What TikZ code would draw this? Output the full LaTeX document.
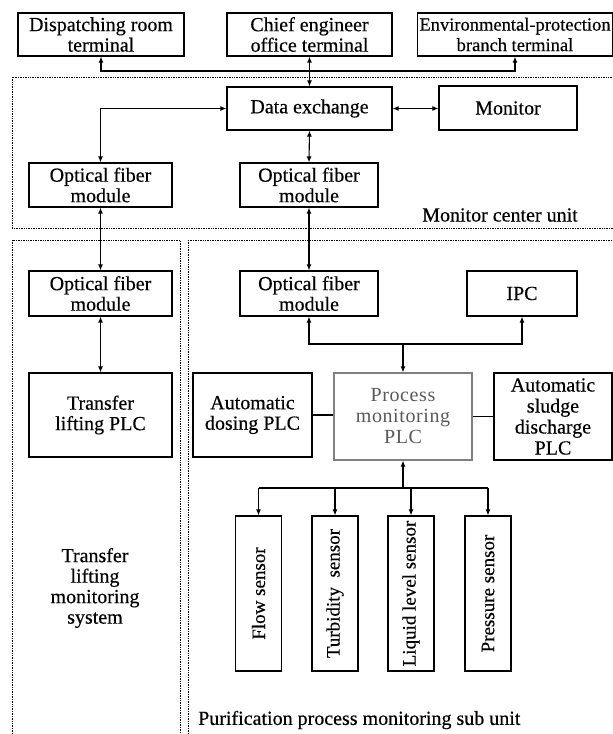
\documentclass[tikz,border=0pt]{standalone}
\usepackage{fontspec}
\setmainfont[FakeBold=0.4]{Liberation Serif}
\newfontfamily\widefont[LetterSpace=3]{Liberation Serif}
\usetikzlibrary{positioning, calc, arrows.meta}

\begin{document}
\begin{tikzpicture}[x=1pt, y=-1pt,
    font=\fontsize{20}{20.5}\selectfont,
    box/.style={draw, line width=1.2pt, align=center, inner sep=0pt},
    sensor/.style={box, minimum width=46pt, minimum height=155pt, font=\fontsize{19}{20}\selectfont},
    label/.style={inner sep=0pt, align=center},
    region/.style={line width=0.8pt, dash pattern=on 0.8pt off 0.9pt},
    link/.style={line width=1.1pt},
    biarrow/.style={link, {Latex[length=6pt,width=5pt]}-{Latex[length=6pt,width=5pt]}},
    toarrow/.style={link, -{Latex[length=6pt,width=5pt]}}]
  \useasboundingbox (0,0) rectangle (613,734);
  \draw[region] (12,77) rectangle (620,228);
  \draw[region] (12,240) rectangle (180,745);
  \draw[region] (188,240) rectangle (620,745);

  \node[box, minimum width=166pt, minimum height=43pt] (disp) at (101,34.5) {Dispatching room\\terminal};
  \node[box, minimum width=165pt, minimum height=43pt] (chief) at (309.5,34.5) {Chief engineer\\office terminal};
  \node[box, minimum width=195pt, minimum height=43pt, font=\fontsize{18.5}{20.5}\selectfont] (env) at (515,34.5) {Environmental-protection\\branch terminal};
  \node[box, minimum width=165pt, minimum height=43pt] (dataex) at (309.5,108.5) {Data exchange};
  \node[box, minimum width=138pt, minimum height=44pt] (monitor) at (508,108) {Monitor};
  \node[box, minimum width=143pt, minimum height=44pt] (ofa) at (100.5,185) {Optical fiber\\module};
  \node[box, minimum width=138pt, minimum height=44pt] (ofb) at (309,185) {Optical fiber\\module};
  \node[label] (mcu) at (500,215) {Monitor center unit};

  \node[box, minimum width=143pt, minimum height=45pt] (ofc) at (100.5,293.5) {Optical fiber\\module};
  \node[box, minimum width=143pt, minimum height=84pt] (tplc) at (100.5,415) {Transfer\\lifting PLC};
  \node[label] (tlms) at (95,588) {Transfer\\lifting\\monitoring\\system};

  \node[box, minimum width=138pt, minimum height=45pt] (ofd) at (309,293.5) {Optical fiber\\module};
  \node[box, minimum width=110pt, minimum height=45pt] (ipc) at (522,293.5) {IPC};
  \node[box, minimum width=119pt, minimum height=84pt] (dosing) at (252.5,415) {Automatic\\dosing PLC};
  \node[box, minimum width=138pt, minimum height=87pt, draw=gray, text=black!65,
        font=\widefont\fontsize{20}{21}\selectfont] (pplc) at (403,416.5) {Process\\monitoring\\PLC};
  \node[box, minimum width=118pt, minimum height=87pt, font=\fontsize{20}{21}\selectfont] (sludge) at (553,416.5) {Automatic\\sludge\\discharge\\PLC};
  \node[sensor] (flow) at (258.5,593.5) {\rotatebox{90}{Flow sensor}};
  \node[sensor] (turb) at (335,593.5) {\rotatebox{90}{Turbidity\ \ sensor}};
  \node[sensor] (liq) at (411,593.5) {\rotatebox{90}{Liquid level sensor}};
  \node[sensor] (pres) at (488,593.5) {\rotatebox{90}{Pressure sensor}};
  \node[label, anchor=west] (ppmsu) at (198,720) {Purification process monitoring sub unit};

  \coordinate (tbus) at (chief.south |- 0,71);
  \coordinate (pbus) at (pplc.north |- 0,344);
  \coordinate (sbus) at (pplc.south |- 0,488);

  \draw[toarrow] (tbus) -| (disp.south);
  \draw[toarrow] (tbus) -| (env.south);
  \draw[biarrow] (dataex.north) -- (chief.south);
  \draw[biarrow] (dataex.east) -- (dataex.east -| monitor.west);
  \draw[biarrow] (ofa.north) |- (dataex.west);
  \draw[biarrow] (dataex.south) -- (ofb.north);
  \draw[biarrow] (ofa.south) -- (ofc.north);
  \draw[biarrow] (ofb.south) -- (ofd.north);
  \draw[biarrow] (ofc.south) -- (tplc.north);
  \draw[toarrow] (pbus) -- (pplc.north);
  \draw[biarrow] (ofd.south) |- (pbus) -| (ipc.south);
  \draw[link] (dosing.east) -- (dosing.east -| pplc.west);
  \draw[link] (pplc.east) -- (pplc.east -| sludge.west);
  \draw[toarrow] (sbus) -- (pplc.south);
  \draw[link] (flow.north |- sbus) -- (pres.north |- sbus);
  \foreach \s in {flow, turb, liq, pres}
    \draw[toarrow] (\s.north |- sbus) -- (\s.north);
\end{tikzpicture}
\end{document}
